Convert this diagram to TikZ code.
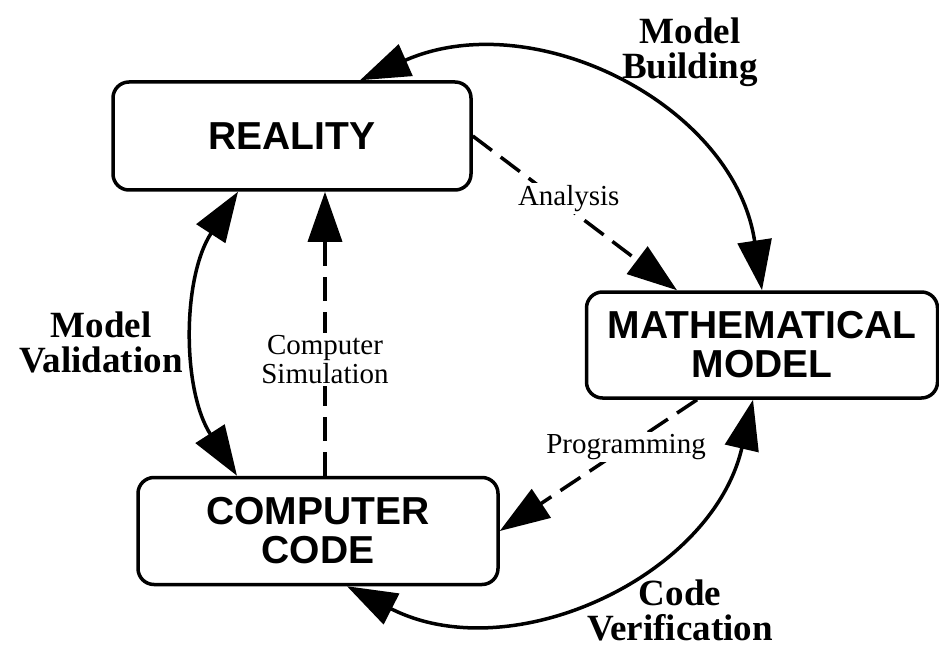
\documentclass[tikz,border=0pt]{standalone}
\usepackage{fontspec}
\setmainfont{Liberation Serif}
\setsansfont{Liberation Sans}
\usetikzlibrary{arrows.meta}

\begin{document}
\begin{tikzpicture}[x=1pt,y=-1pt,line width=3.5pt,>={Triangle[length=50pt,width=34pt]}]
\tikzset{box/.style={draw,rounded corners=16pt,align=center,inner sep=0pt,font=\sffamily\bfseries\fontsize{39}{39}\selectfont},
         loop/.style={<->},
         flow/.style={->,dash pattern=on 24pt off 11pt},
         phase/.style={align=center,font=\bfseries\fontsize{37}{35}\selectfont},
         note/.style={align=center,fill=white,inner sep=2pt,font=\fontsize{29}{29}\selectfont}}
\useasboundingbox (0,0) rectangle (939,647);
\node[box,minimum width=358pt,minimum height=108pt] (real) at (292,136) {REALITY};
\node[box,minimum width=351pt,minimum height=106pt] (math) at (762,345) {MATHEMATICAL\\MODEL};
\node[box,minimum width=360pt,minimum height=107pt] (code) at (318,531) {COMPUTER\\CODE};
\node[phase] (build) at (690,52) {Model\\Building};
\node[phase] (valid) at (101,342) {Model\\Validation};
\node[phase] (verif) at (680,610) {Code\\Verification};
% outer cycle
\draw[loop] ([xshift=68pt]real.north) .. controls (533,4) and (734,104) .. (math.north);
\draw[loop] ([xshift=-54pt]real.south) .. controls (182,278) and (182,390) .. ([xshift=-81pt]code.north);
\draw[loop] ([xshift=29pt]code.south) .. controls (511,670) and (712,577) .. ([xshift=-9pt]math.south);
% inner steps
\draw[flow] (real.east) -- ([xshift=-85pt]math.north) node[note,pos=0.47,yshift=10pt] {Analysis};
\draw[flow] ([xshift=-65pt]math.south) -- (code.east) node[note,pos=0.36] {Programming};
\draw[flow] ([xshift=7pt]code.north) -- ([xshift=33pt]real.south) node[note,pos=0.41] {Computer\\Simulation};
\end{tikzpicture}
\end{document}
